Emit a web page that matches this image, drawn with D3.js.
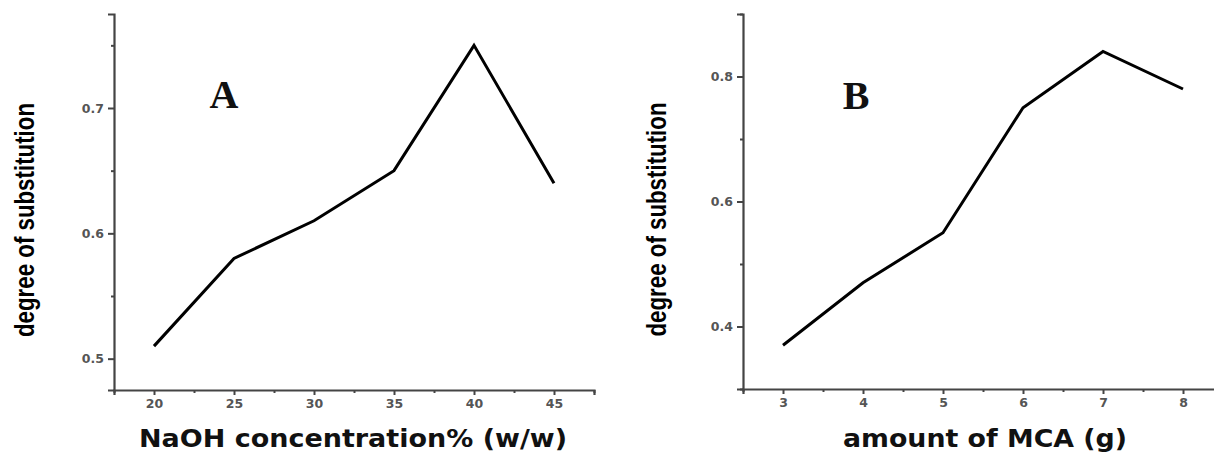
<!DOCTYPE html>
<html>
<head>
<meta charset="utf-8">
<script src="https://cdn.jsdelivr.net/npm/d3@7"></script>
<style>
  html, body { margin: 0; padding: 0; background: #fff; }
  svg { display: block; }
  .tick text { font-family: "DejaVu Sans", sans-serif; font-weight: bold; fill: #555; }
</style>
</head>
<body>
<svg id="chart" width="1214" height="452"></svg>
<script>
// Panel A: NaOH concentration vs degree of substitution
const naohConc = [20, 25, 30, 35, 40, 45];
const dsNaoh   = [0.51, 0.58, 0.61, 0.65, 0.75, 0.64];
const naohTicks  = [20, 25, 30, 35, 40, 45];
const naohYTicks = [0.5, 0.6, 0.7];

// Panel B: amount of MCA vs degree of substitution
const mcaAmount = [3, 4, 5, 6, 7, 8];
const dsMca     = [0.37, 0.47, 0.55, 0.75, 0.84, 0.78];
const mcaTicks  = [3, 4, 5, 6, 7, 8];
const mcaYTicks = [0.4, 0.6, 0.8];

const yTitle = "degree of substitution";

const svg = d3.select("#chart");

function panel(cfg) {
  const g = svg.append("g");
  const x = d3.scaleLinear().domain(cfg.xDomain).range(cfg.xRange);
  const y = d3.scaleLinear().domain(cfg.yDomain).range(cfg.yRange);

  // minor ticks halfway between majors
  const xStep = cfg.xTicks[1] - cfg.xTicks[0];
  const yStep = cfg.yTicks[1] - cfg.yTicks[0];
  const xMinor = d3.range(cfg.xDomain[0], cfg.xDomain[1] + 1e-9, xStep / 2)
    .filter(v => !cfg.xTicks.some(t => Math.abs(t - v) < 1e-9));
  const yMinor = d3.range(cfg.yTicks[0] - yStep / 2, cfg.yDomain[1] + 1e-9, yStep / 2)
    .filter(v => v >= cfg.yDomain[0] - 1e-9 && !cfg.yTicks.some(t => Math.abs(t - v) < 1e-9));

  g.append("g")
    .attr("transform", `translate(0,${cfg.yRange[0]})`)
    .call(d3.axisBottom(x).tickValues(cfg.xTicks).tickSize(5).tickPadding(4)
      .tickFormat(d3.format("d")));
  g.append("g")
    .attr("transform", `translate(0,${cfg.yRange[0]})`)
    .call(d3.axisBottom(x).tickValues(xMinor).tickSize(3).tickFormat(""))
    .call(a => a.select(".domain").remove());

  g.append("g")
    .attr("transform", `translate(${cfg.xRange[0]},0)`)
    .call(d3.axisLeft(y).tickValues(cfg.yTicks).tickSize(6).tickPadding(4)
      .tickFormat(d3.format(".1f")));
  g.append("g")
    .attr("transform", `translate(${cfg.xRange[0]},0)`)
    .call(d3.axisLeft(y).tickValues(yMinor).tickSize(3).tickFormat(""))
    .call(a => a.select(".domain").remove());

  g.selectAll(".domain").attr("stroke", "#444").attr("stroke-width", 2.2);
  g.selectAll(".tick line").attr("stroke", "#444").attr("stroke-width", 2);
  g.selectAll(".tick text").attr("font-size", 12.5);

  // data line
  const pts = cfg.xs.map((v, i) => [v, cfg.ys[i]]);
  g.append("path")
    .datum(pts)
    .attr("fill", "none")
    .attr("stroke", "#000")
    .attr("stroke-width", 3)
    .attr("stroke-linejoin", "miter")
    .attr("d", d3.line().x(d => x(d[0])).y(d => y(d[1])));

  // panel letter
  g.append("text")
    .attr("x", cfg.letterX).attr("y", cfg.letterY)
    .attr("text-anchor", "middle")
    .attr("font-family", "Liberation Serif, serif")
    .attr("font-weight", "bold")
    .attr("font-size", 40)
    .attr("fill", "#111")
    .text(cfg.letter);

  // y title
  const yMid = (cfg.yRange[0] + cfg.yRange[1]) / 2 + 18;
  g.append("text")
    .attr("transform", `translate(${cfg.yTitleX},${yMid}) rotate(-90)`)
    .attr("text-anchor", "middle")
    .attr("font-family", "Liberation Sans Narrow, Arial Narrow, sans-serif")
    .attr("font-weight", "bold")
    .attr("font-size", 28)
    .attr("textLength", 234)
    .attr("lengthAdjust", "spacingAndGlyphs")
    .attr("fill", "#000")
    .text(yTitle);

  // x title
  g.append("text")
    .attr("x", cfg.xTitleX).attr("y", 447)
    .attr("text-anchor", "middle")
    .attr("font-family", "DejaVu Sans, sans-serif")
    .attr("font-weight", "bold")
    .attr("font-size", 24)
    .attr("textLength", cfg.xTitleLen)
    .attr("lengthAdjust", "spacingAndGlyphs")
    .attr("fill", "#111")
    .text(cfg.xTitle);
}

panel({
  xs: naohConc, ys: dsNaoh,
  xTicks: naohTicks, yTicks: naohYTicks,
  xDomain: [17.5, 47.5], yDomain: [0.475, 0.775],
  xRange: [114, 594], yRange: [390, 14],
  letter: "A", letterX: 224, letterY: 108,
  yTitleX: 34, xTitleX: 353, xTitleLen: 428,
  xTitle: "NaOH concentration% (w/w)"
});

panel({
  xs: mcaAmount, ys: dsMca,
  xTicks: mcaTicks, yTicks: mcaYTicks,
  xDomain: [2.5, 8.5], yDomain: [0.3, 0.9],
  xRange: [743, 1223], yRange: [389, 14],
  letter: "B", letterX: 856, letterY: 109,
  yTitleX: 666, xTitleX: 985, xTitleLen: 284,
  xTitle: "amount of MCA (g)"
});
</script>
</body>
</html>
